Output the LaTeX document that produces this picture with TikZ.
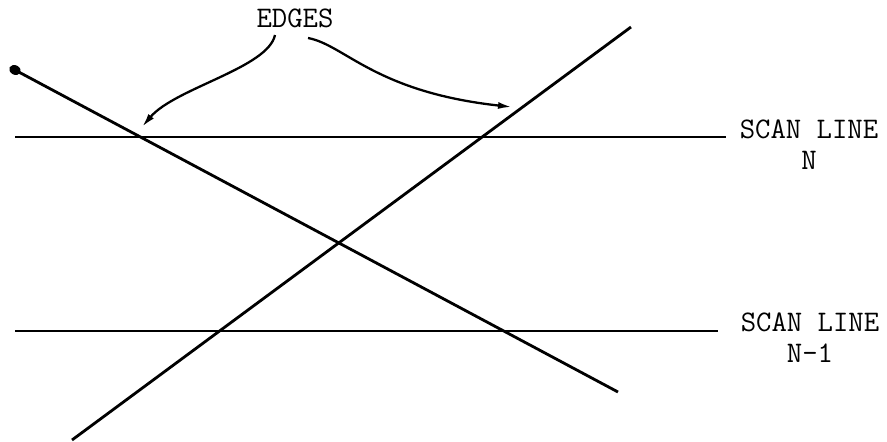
\documentclass[tikz,border=0pt]{standalone}
\usepackage{tikz}
\usetikzlibrary{shapes.geometric, arrows.meta, positioning}
\tikzstyle{scanline} = [line width=1.5pt, color=black]
\tikzstyle{edge} = [line width=1.6pt, color=black]
\tikzstyle{pointer} = [
    line width=1.3pt,
    -{Latex[length=2.8mm, width=1.4mm]},
    color=black
]
\tikzstyle{typed} = [
    font=\ttfamily\fontsize{17}{20}\selectfont,
    inner sep=0pt,
    anchor=base
]

\begin{document}
\begin{tikzpicture}[x=0.02cm, y=-0.02cm]
        \useasboundingbox (0,0) rectangle (887,441);
        % Scan lines
        \coordinate (nLeft) at (15,137);
        \coordinate (nRight) at (726,137);
        \coordinate (mLeft) at (15,331);
        \coordinate (mRight) at (718,331);
        \draw[scanline] (nLeft) -- (nRight);
        \draw[scanline] (mLeft) -- (mRight);

        % Edges
        \node[ellipse, fill=black, inner sep=0pt, minimum width=0.24cm, minimum height=0.19cm, rotate=-28] (blob) at (15,70) {};
        \coordinate (downEnd) at (618,392);
        \coordinate (upStart) at (72,440);
        \coordinate (upEnd) at (631,27);
        \draw[edge] (blob.center) -- (downEnd);
        \draw[edge] (upStart) -- (upEnd);

        % Labels
        \node[typed] (edges) at (295,27) {EDGES};
        \node[typed] (scanN) at (809,138) {SCAN LINE};
        \node[typed] (numN) at (809,169) {N};
        \node[typed] (scanM) at (810,331) {SCAN LINE};
        \node[typed] (numM) at (810,362) {N-1};

        % Pointers
        \coordinate (leftTail) at (275,35);
        \coordinate (leftHead) at (142,127);
        \coordinate (rightTail) at (308,38);
        \coordinate (rightHead) at (512,107);
        \draw[pointer] (leftTail) .. controls (268,68) and (175,88) .. (leftHead);
        \draw[pointer] (rightTail) .. controls (345,45) and (375,92) .. (rightHead);
    \end{tikzpicture}
\end{document}
